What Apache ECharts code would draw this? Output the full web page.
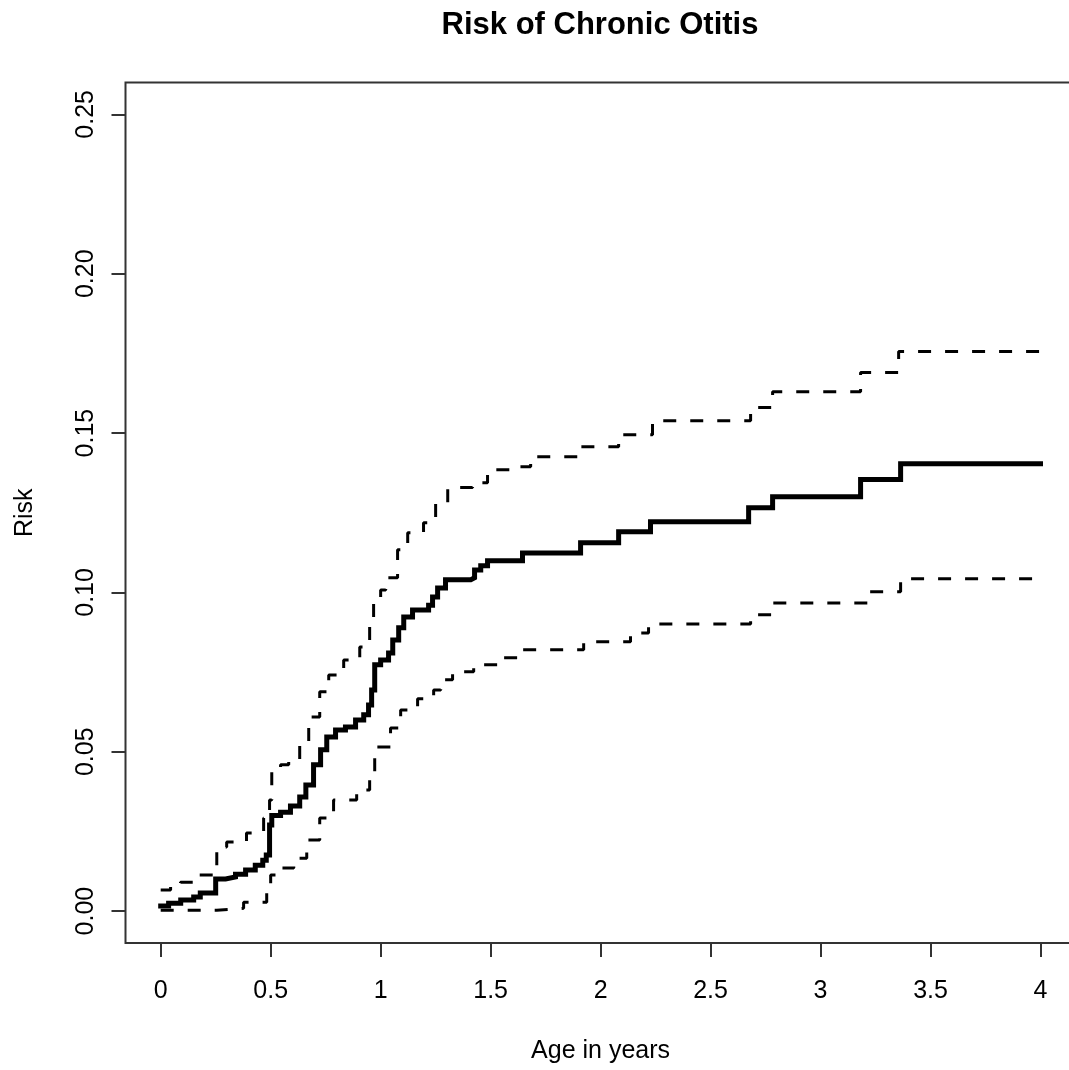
<!DOCTYPE html>
<html>
<head>
<meta charset="utf-8">
<script src="https://cdn.jsdelivr.net/npm/echarts@6/dist/echarts.min.js"></script>
<style>
  html, body { margin: 0; padding: 0; overflow: hidden; background: #fff; }
  #line { width: 1080px; height: 1070px; }
</style>
</head>
<body>
<div id="line"></div>
<script>
// estimated cumulative risk (step curve) and its 95% bounds
let riskAge = [0, 0.036, 0.091, 0.15, 0.18, 0.25, 0.295, 0.34, 0.386, 0.43, 0.464, 0.48, 0.495, 0.505,
  0.545, 0.59, 0.632, 0.66, 0.695, 0.727, 0.755, 0.795, 0.84, 0.886, 0.923, 0.945, 0.959, 0.973,
  1.0, 1.036, 1.055, 1.082, 1.105, 1.145, 1.218, 1.236, 1.259, 1.295, 1.41, 1.427, 1.455, 1.486,
  1.645, 1.909, 2.082, 2.227, 2.673, 2.782, 3.182, 3.364, 4.0];
let risk = [0.0016, 0.0025, 0.0035, 0.0044, 0.0057, 0.0101, 0.0107, 0.0116, 0.0129, 0.0144, 0.016, 0.0176, 0.027, 0.030,
  0.031, 0.033, 0.0358, 0.0396, 0.0459, 0.0506, 0.0546, 0.0568, 0.0578, 0.060, 0.0616, 0.0647, 0.0694, 0.0773,
  0.0788, 0.081, 0.0851, 0.0889, 0.0923, 0.0945, 0.096, 0.0986, 0.1014, 0.104, 0.1046, 0.107, 0.1084, 0.1099,
  0.1124, 0.1156, 0.119, 0.1222, 0.1266, 0.130, 0.1354, 0.1404, 0.1404];

let upperAge = [0, 0.045, 0.09, 0.15, 0.24, 0.255, 0.3, 0.39, 0.468, 0.495, 0.505, 0.545, 0.582, 0.632,
  0.673, 0.723, 0.764, 0.832, 0.905, 0.95, 0.968, 1.0, 1.023, 1.077, 1.123, 1.195, 1.25, 1.305,
  1.418, 1.486, 1.605, 1.682, 1.909, 2.082, 2.236, 2.682, 2.782, 3.182, 3.355, 4.0];
let upperRisk = [0.0066, 0.0082, 0.0091, 0.0113, 0.0135, 0.0201, 0.0217, 0.0245, 0.0292, 0.0349, 0.0443, 0.0459, 0.0474, 0.0531,
  0.0609, 0.0688, 0.0741, 0.0788, 0.0829, 0.0892, 0.0977, 0.1008, 0.1046, 0.1134, 0.1187, 0.1219, 0.1281, 0.1329,
  0.1344, 0.1385, 0.1394, 0.1426, 0.1457, 0.1495, 0.1539, 0.158, 0.163, 0.169, 0.1756, 0.1756];

let lowerAge = [0, 0.255, 0.377, 0.482, 0.5, 0.545, 0.605, 0.664, 0.723, 0.786, 0.891, 0.95, 0.973,
  1.045, 1.091, 1.168, 1.241, 1.273, 1.327, 1.423, 1.532, 1.636, 1.923, 2.136, 2.218, 2.682, 2.782,
  3.214, 3.364, 4.0];
let lowerRisk = [0.0003, 0.0009, 0.0028, 0.0057, 0.0113, 0.0135, 0.0166, 0.0223, 0.0292, 0.0349, 0.038, 0.0433, 0.0515,
  0.0575, 0.0631, 0.0666, 0.0694, 0.0726, 0.0751, 0.0773, 0.0795, 0.082, 0.0845, 0.0873, 0.0901, 0.093, 0.0967,
  0.1002, 0.1043, 0.1043];

let xTicks = [0, 0.5, 1, 1.5, 2, 2.5, 3, 3.5, 4];
let yTicks = [0, 0.05, 0.10, 0.15, 0.20, 0.25];

function pairs(xs, ys) {
    return xs.map(function (x, i) { return [x, ys[i]]; });
}

let myChart = echarts.init(document.getElementById('line'));
let font = 'Liberation Sans, Arial, sans-serif';

option = {
    animation: false,
    backgroundColor: '#fff',
    title: {
        text: 'Risk of Chronic Otitis',
        left: 600,
        top: 10,
        padding: 0,
        textAlign: 'center',
        textStyle: {
            fontFamily: font,
            fontSize: 31,
            fontWeight: 'bold',
            color: '#000'
        }
    },
    grid: {
        left: 125.5,
        right: 4.3,
        top: 82.5,
        bottom: 127,
        show: true,
        borderColor: '#333',
        borderWidth: 2,
        containLabel: false,
        outerBoundsMode: 'none'
    },
    xAxis: {
        type: 'value',
        min: -0.16,
        max: 4.16,
        name: 'Age in years',
        nameLocation: 'middle',
        nameGap: 96,
        nameTextStyle: { fontFamily: font, fontSize: 25, color: '#000' },
        axisLine: { show: false, onZero: false },
        splitLine: { show: false },
        axisTick: {
            show: true,
            length: 14,
            customValues: xTicks,
            lineStyle: { color: '#333', width: 2 }
        },
        axisLabel: {
            customValues: xTicks,
            margin: 36,
            fontFamily: font,
            fontSize: 25,
            color: '#000',
            formatter: function (v) { return String(v); }
        }
    },
    yAxis: {
        type: 'value',
        min: -0.01,
        max: 0.26,
        name: 'Risk',
        nameLocation: 'middle',
        nameGap: 88,
        nameRotate: 90,
        nameTextStyle: { fontFamily: font, fontSize: 25, color: '#000' },
        axisLine: { show: false, onZero: false },
        splitLine: { show: false },
        axisTick: {
            show: true,
            length: 14,
            customValues: yTicks,
            lineStyle: { color: '#333', width: 2 }
        },
        axisLabel: {
            customValues: yTicks,
            rotate: 90,
            margin: 27,
            fontFamily: font,
            fontSize: 25,
            color: '#000',
            formatter: function (v) { return v.toFixed(2); }
        }
    },
    series: [{
        name: 'risk',
        type: 'line',
        step: 'end',
        showSymbol: false,
        data: pairs(riskAge, risk),
        lineStyle: { color: '#000', width: 5, cap: 'square', join: 'miter' }
    }, {
        name: 'upper',
        type: 'line',
        step: 'end',
        showSymbol: false,
        data: pairs(upperAge, upperRisk),
        lineStyle: { color: '#000', width: 3, type: [13, 14] }
    }, {
        name: 'lower',
        type: 'line',
        step: 'end',
        showSymbol: false,
        data: pairs(lowerAge, lowerRisk),
        lineStyle: { color: '#000', width: 3, type: [13, 14] }
    }]
};

myChart.setOption(option);
</script>
</body>
</html>
